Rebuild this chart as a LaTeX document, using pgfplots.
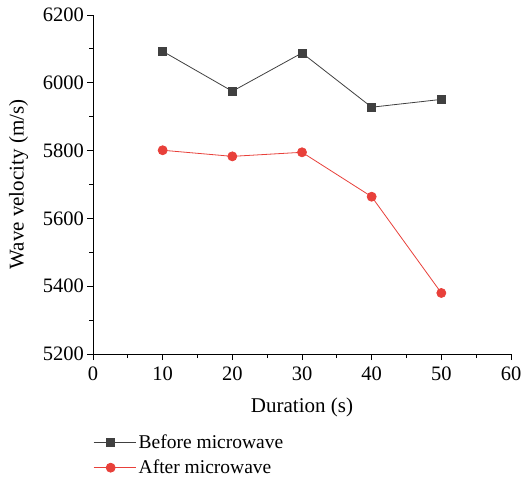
\documentclass[border=0pt]{standalone}
\usepackage{fontspec}
\setmainfont{Liberation Serif}
\usepackage{pgfplots}
\pgfplotsset{compat=1.18}
\definecolor{darkg}{HTML}{404040}
\definecolor{redc}{HTML}{E8403A}
\begin{document}
\begin{tikzpicture}
\begin{axis}[
  scale only axis,
  width=418pt, height=339pt,
  xmin=0, xmax=60, ymin=5200, ymax=6200,
  xtick={0,10,...,60}, ytick={5200,5400,...,6200},
  minor x tick num=1, minor y tick num=1,
  axis x line*=bottom, axis y line*=left,
  tick align=outside,
  major tick length=6pt, minor tick length=4pt,
  every tick/.style={black, line width=0.8pt},
  axis line style={black, line width=0.9pt, -},
  /pgf/number format/assume math mode=true,
  /pgf/number format/1000 sep={},
  ticklabel style={font=\fontsize{20.5}{24}\selectfont},
  label style={font=\fontsize{21}{25}\selectfont},
  yticklabel style={inner xsep=3pt},
  xticklabel style={yshift=-3pt},
  xlabel={Duration (s)}, ylabel={Wave velocity (m/s)},
  xlabel style={yshift=-11pt},
  ylabel style={yshift=8pt},
  clip=false,
  legend cell align=left,
  legend style={at={(axis description cs:0,-0.232)}, anchor=north west, draw=none, fill=none,
    font=\fontsize{19.5}{23}\selectfont, row sep=6pt, inner sep=0pt},
  legend image code/.code={
    \draw[#1, mark repeat=2, mark phase=2] plot coordinates {(0cm,0cm) (0.6cm,0cm) (1.2cm,0cm)};
    \path (1.2cm,0cm) -- (1.5cm,0cm);
  },
]
\coordinate (ll) at (rel axis cs:0,0);
\coordinate (ur) at (rel axis cs:1,1);
\addplot[darkg, line width=0.8pt, mark=square*, mark size=4pt, mark options={fill=darkg, draw=darkg}]
  coordinates {(10,6093) (20,5975) (30,6088) (40,5928) (50,5951)};
\addlegendentry{Before microwave}
\addplot[redc, line width=0.8pt, mark=*, mark size=4.5pt, mark options={fill=redc, draw=redc}]
  coordinates {(10,5801) (20,5783) (30,5795) (40,5664) (50,5380)};
\addlegendentry{After microwave}
\end{axis}
\pgfresetboundingbox
\path[use as bounding box] ([shift={(-93pt,-127pt)}]ll) rectangle ([shift={(12pt,15pt)}]ur);
\end{tikzpicture}
\end{document}
